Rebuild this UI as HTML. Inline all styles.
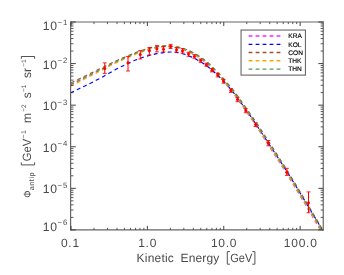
<!DOCTYPE html>
<html><head><meta charset="utf-8"><title>plot</title><style>html,body{margin:0;padding:0;background:#fff;overflow:hidden}svg text{text-rendering:geometricPrecision}svg{will-change:transform;transform:translateZ(0)}body{width:344px;height:275px}</style></head><body>
<svg width="344" height="275" viewBox="0 0 344 275" style="display:block" font-family="'Liberation Sans', sans-serif">
<rect x="0" y="0" width="344" height="275" fill="#fff"/>
<clipPath id="c"><rect x="71.0" y="22.0" width="252.1326710688149" height="207.89999999999998"/></clipPath>
<g clip-path="url(#c)" fill="none" stroke-width="1.15" stroke-dasharray="3.9 3.18">
<path d="M71.00,84.70C72.50,83.95 76.83,81.78 80.00,80.20C83.17,78.62 86.67,76.87 90.00,75.20C93.33,73.53 96.67,71.90 100.00,70.20C103.33,68.50 107.25,66.38 110.00,65.00C112.75,63.62 114.33,62.90 116.50,61.90C118.67,60.90 120.75,59.98 123.00,59.00C125.25,58.02 127.82,56.93 130.00,56.00C132.18,55.07 133.92,54.23 136.10,53.40C138.28,52.57 140.88,51.78 143.10,51.03C145.32,50.28 147.10,49.50 149.40,48.89C151.70,48.28 154.55,47.75 156.90,47.37C159.25,46.99 161.48,46.78 163.50,46.64C165.52,46.49 166.75,46.29 169.00,46.49C171.25,46.69 174.50,47.28 177.00,47.84C179.50,48.41 181.75,49.07 184.00,49.88C186.25,50.69 188.33,51.63 190.50,52.71C192.67,53.79 195.00,55.10 197.00,56.34C199.00,57.58 200.75,58.83 202.50,60.15C204.25,61.47 205.88,62.80 207.50,64.25C209.12,65.70 210.52,67.06 212.25,68.84C213.98,70.63 215.97,72.84 217.90,74.96C219.83,77.08 221.50,78.90 223.80,81.58C226.10,84.25 229.28,87.95 231.70,91.03C234.12,94.10 235.88,96.62 238.30,100.02C240.72,103.43 243.25,107.15 246.20,111.44C249.15,115.74 252.33,120.24 256.00,125.79C259.67,131.34 263.03,136.69 268.20,144.77C273.37,152.86 280.28,163.45 287.00,174.30C293.72,185.15 302.70,200.20 308.50,209.90C314.30,219.60 319.58,228.73 321.80,232.50" stroke="#ff22ff" stroke-dashoffset="0.6"/>
<path d="M71.00,92.70C72.25,92.08 76.17,90.13 78.50,89.00C80.83,87.87 82.75,87.00 85.00,85.90C87.25,84.80 89.50,83.67 92.00,82.40C94.50,81.13 97.42,79.67 100.00,78.30C102.58,76.93 104.83,75.72 107.50,74.20C110.17,72.68 113.48,70.57 116.00,69.20C118.52,67.83 120.60,66.93 122.60,66.00C124.60,65.07 125.93,64.55 128.00,63.60C130.07,62.65 132.50,61.37 135.00,60.30C137.50,59.23 140.50,58.03 143.00,57.20C145.50,56.37 147.67,55.90 150.00,55.30C152.33,54.70 154.75,54.05 157.00,53.60C159.25,53.15 161.33,52.87 163.50,52.60C165.67,52.33 167.85,52.03 170.00,52.00C172.15,51.97 174.15,52.07 176.40,52.40C178.65,52.73 181.13,53.30 183.50,54.00C185.87,54.70 188.35,55.65 190.60,56.60C192.85,57.55 195.02,58.63 197.00,59.70C198.98,60.77 200.75,61.87 202.50,63.00C204.25,64.13 205.88,65.28 207.50,66.50C209.12,67.72 210.52,68.80 212.25,70.30C213.98,71.80 215.97,73.63 217.90,75.50C219.83,77.37 221.50,79.03 223.80,81.50C226.10,83.97 229.28,87.38 231.70,90.30C234.12,93.22 235.88,95.72 238.30,99.00C240.72,102.28 243.25,105.78 246.20,110.00C249.15,114.22 252.32,118.80 256.00,124.30C259.68,129.80 263.05,134.97 268.30,143.00C273.55,151.03 280.68,161.67 287.50,172.50C294.32,183.33 303.40,198.45 309.20,208.00C315.00,217.55 320.12,226.17 322.30,229.80" stroke="#0000ff" stroke-dashoffset="0.6"/>
<path d="M71.00,82.80C72.50,82.08 76.83,79.99 80.00,78.46C83.17,76.94 86.67,75.25 90.00,73.64C93.33,72.03 96.67,70.46 100.00,68.82C103.33,67.18 107.25,65.15 110.00,63.80C112.75,62.45 114.33,61.72 116.50,60.73C118.67,59.74 120.75,58.84 123.00,57.86C125.25,56.89 127.82,55.82 130.00,54.90C132.18,53.98 133.92,53.15 136.10,52.33C138.28,51.52 140.88,50.74 143.10,50.01C145.32,49.28 147.10,48.53 149.40,47.94C151.70,47.35 154.55,46.84 156.90,46.49C159.25,46.13 161.48,45.95 163.50,45.82C165.52,45.69 166.75,45.55 169.00,45.73C171.25,45.91 174.50,46.39 177.00,46.89C179.50,47.39 181.75,47.99 184.00,48.73C186.25,49.48 188.33,50.36 190.50,51.38C192.67,52.39 195.00,53.65 197.00,54.82C199.00,56.00 200.75,57.19 202.50,58.44C204.25,59.69 205.88,60.95 207.50,62.33C209.12,63.70 210.52,65.00 212.25,66.71C213.98,68.42 215.97,70.54 217.90,72.58C219.83,74.62 221.50,76.36 223.80,78.94C226.10,81.53 229.28,85.09 231.70,88.07C234.12,91.06 235.88,93.55 238.30,96.88C240.72,100.21 243.25,103.85 246.20,108.06C249.15,112.26 252.33,116.66 256.00,122.11C259.67,127.56 263.03,132.71 268.20,140.73C273.37,148.74 280.28,159.35 287.00,170.20C293.72,181.05 302.70,196.10 308.50,205.80C314.30,215.50 319.58,224.63 321.80,228.40" stroke="#a0522d" stroke-dashoffset="0.1"/>
<path d="M71.00,86.10C72.50,85.32 76.83,83.09 80.00,81.45C83.17,79.81 86.67,78.01 90.00,76.28C93.33,74.56 96.67,72.87 100.00,71.12C103.33,69.36 107.25,67.17 110.00,65.75C112.75,64.33 114.33,63.63 116.50,62.62C118.67,61.61 120.75,60.68 123.00,59.68C125.25,58.69 127.82,57.59 130.00,56.65C132.18,55.71 133.92,54.86 136.10,54.02C138.28,53.18 140.88,52.36 143.10,51.59C145.32,50.81 147.10,50.01 149.40,49.37C151.70,48.73 154.55,48.15 156.90,47.74C159.25,47.34 161.48,47.10 163.50,46.92C165.52,46.75 166.75,46.53 169.00,46.70C171.25,46.88 174.50,47.43 177.00,47.97C179.50,48.51 181.75,49.15 184.00,49.94C186.25,50.73 188.33,51.65 190.50,52.70C192.67,53.76 195.00,55.05 197.00,56.27C199.00,57.49 200.75,58.73 202.50,60.03C204.25,61.34 205.88,62.66 207.50,64.10C209.12,65.54 210.52,66.89 212.25,68.66C213.98,70.44 215.97,72.63 217.90,74.74C219.83,76.85 221.50,78.65 223.80,81.32C226.10,83.98 229.28,87.66 231.70,90.72C234.12,93.78 235.88,96.29 238.30,99.68C240.72,103.07 243.25,106.78 246.20,111.06C249.15,115.34 252.33,119.82 256.00,125.36C259.67,130.90 263.03,136.21 268.20,144.28C273.37,152.36 280.28,162.95 287.00,173.80C293.72,184.65 302.70,199.70 308.50,209.40C314.30,219.10 319.58,228.23 321.80,232.00" stroke="#ffa500" stroke-dashoffset="0.6"/>
<path d="M71.00,84.10C72.50,83.36 76.83,81.21 80.00,79.65C83.17,78.08 86.67,76.35 90.00,74.70C93.33,73.05 96.67,71.43 100.00,69.75C103.33,68.07 107.25,65.97 110.00,64.60C112.75,63.23 114.33,62.50 116.50,61.50C118.67,60.50 120.75,59.58 123.00,58.60C125.25,57.62 127.82,56.53 130.00,55.60C132.18,54.67 133.92,53.83 136.10,53.00C138.28,52.17 140.88,51.37 143.10,50.61C145.32,49.85 147.10,49.06 149.40,48.43C151.70,47.81 154.55,47.25 156.90,46.86C159.25,46.46 161.48,46.24 163.50,46.08C165.52,45.92 166.75,45.72 169.00,45.90C171.25,46.07 174.50,46.60 177.00,47.12C179.50,47.65 181.75,48.27 184.00,49.05C186.25,49.82 188.33,50.73 190.50,51.77C192.67,52.81 195.00,54.08 197.00,55.29C199.00,56.50 200.75,57.72 202.50,59.00C204.25,60.28 205.88,61.58 207.50,63.00C209.12,64.42 210.52,65.75 212.25,67.50C213.98,69.25 215.97,71.42 217.90,73.50C219.83,75.58 221.50,77.37 223.80,80.00C226.10,82.63 229.28,86.27 231.70,89.30C234.12,92.33 235.88,94.83 238.30,98.20C240.72,101.57 243.25,105.25 246.20,109.50C249.15,113.75 252.33,118.20 256.00,123.70C259.67,129.20 263.03,134.45 268.20,142.50C273.37,150.55 280.28,161.15 287.00,172.00C293.72,182.85 302.70,197.90 308.50,207.60C314.30,217.30 319.58,226.43 321.80,230.20" stroke="#4fa04f" stroke-dashoffset="0.6"/>
</g>
<g stroke="#ff0000" stroke-width="1" fill="#ff0000">
<path d="M104.75,62.9V73.4" fill="none"/><path d="M102.8,62.9H106.7M102.8,73.4H106.7" fill="none" stroke-width="0.85"/>
<circle cx="104.75" cy="68.5" r="1.5" stroke="none"/>
<path d="M128.0,56.4V71.0" fill="none"/><path d="M126.05,56.4H129.95M126.05,71.0H129.95" fill="none" stroke-width="0.85"/>
<circle cx="128.0" cy="62.7" r="1.5" stroke="none"/>
<path d="M140.25,50.6V59" fill="none"/><path d="M138.3,50.6H142.2M138.3,59H142.2" fill="none" stroke-width="0.85"/>
<circle cx="140.25" cy="54.4" r="1.5" stroke="none"/>
<path d="M149.4,47.5V55" fill="none"/><path d="M147.45000000000002,47.5H151.35M147.45000000000002,55H151.35" fill="none" stroke-width="0.85"/>
<circle cx="149.4" cy="50.8" r="1.5" stroke="none"/>
<path d="M156.9,45.6V51.9" fill="none"/><path d="M154.95000000000002,45.6H158.85M154.95000000000002,51.9H158.85" fill="none" stroke-width="0.85"/>
<circle cx="156.9" cy="48.75" r="1.5" stroke="none"/>
<path d="M163.5,46.5V51.9" fill="none"/><path d="M161.55,46.5H165.45M161.55,51.9H165.45" fill="none" stroke-width="0.85"/>
<circle cx="163.5" cy="49.2" r="1.5" stroke="none"/>
<path d="M170.6,44.4V48.5" fill="none"/><path d="M168.65,44.4H172.54999999999998M168.65,48.5H172.54999999999998" fill="none" stroke-width="0.85"/>
<circle cx="170.6" cy="46.5" r="1.5" stroke="none"/>
<path d="M176.5,47.5V52.25" fill="none"/><path d="M174.55,47.5H178.45M174.55,52.25H178.45" fill="none" stroke-width="0.85"/>
<circle cx="176.5" cy="49.75" r="1.5" stroke="none"/>
<path d="M182.5,48.5V53" fill="none"/><path d="M180.55,48.5H184.45M180.55,53H184.45" fill="none" stroke-width="0.85"/>
<circle cx="182.5" cy="50.7" r="1.5" stroke="none"/>
<path d="M188.5,52.25V56.25" fill="none"/><path d="M186.55,52.25H190.45M186.55,56.25H190.45" fill="none" stroke-width="0.85"/>
<circle cx="188.5" cy="54.1" r="1.5" stroke="none"/>
<path d="M194.4,54.6V58.3" fill="none"/><path d="M192.45000000000002,54.6H196.35M192.45000000000002,58.3H196.35" fill="none" stroke-width="0.85"/>
<circle cx="194.4" cy="56.5" r="1.5" stroke="none"/>
<path d="M200.6,59V62.3" fill="none"/><path d="M198.65,59H202.54999999999998M198.65,62.3H202.54999999999998" fill="none" stroke-width="0.85"/>
<circle cx="200.6" cy="60.6" r="1.5" stroke="none"/>
<path d="M206.4,63.2V66.3" fill="none"/><path d="M204.45000000000002,63.2H208.35M204.45000000000002,66.3H208.35" fill="none" stroke-width="0.85"/>
<circle cx="206.4" cy="64.75" r="1.5" stroke="none"/>
<path d="M212.0,68.5V71.9" fill="none"/><path d="M210.05,68.5H213.95M210.05,71.9H213.95" fill="none" stroke-width="0.85"/>
<circle cx="212.0" cy="70.2" r="1.5" stroke="none"/>
<path d="M217.7,73.3V76.9" fill="none"/><path d="M215.75,73.3H219.64999999999998M215.75,76.9H219.64999999999998" fill="none" stroke-width="0.85"/>
<circle cx="217.7" cy="75.1" r="1.5" stroke="none"/>
<path d="M223.5,79.4V83.2" fill="none"/><path d="M221.55,79.4H225.45M221.55,83.2H225.45" fill="none" stroke-width="0.85"/>
<circle cx="223.5" cy="81.3" r="1.5" stroke="none"/>
<path d="M230.8,88.6V92.4" fill="none"/><path d="M228.85000000000002,88.6H232.75M228.85000000000002,92.4H232.75" fill="none" stroke-width="0.85"/>
<circle cx="230.8" cy="90.5" r="1.5" stroke="none"/>
<path d="M237.5,97.5V101.7" fill="none"/><path d="M235.55,97.5H239.45M235.55,101.7H239.45" fill="none" stroke-width="0.85"/>
<circle cx="237.5" cy="99.6" r="1.5" stroke="none"/>
<path d="M245.8,108.7V112.7" fill="none"/><path d="M243.85000000000002,108.7H247.75M243.85000000000002,112.7H247.75" fill="none" stroke-width="0.85"/>
<circle cx="245.8" cy="110.7" r="1.5" stroke="none"/>
<path d="M255.6,122.7V126.5" fill="none"/><path d="M253.65,122.7H257.55M253.65,126.5H257.55" fill="none" stroke-width="0.85"/>
<circle cx="255.6" cy="124.6" r="1.5" stroke="none"/>
<path d="M268.3,140.5V145.8" fill="none"/><path d="M266.35,140.5H270.25M266.35,145.8H270.25" fill="none" stroke-width="0.85"/>
<circle cx="268.3" cy="143.1" r="1.5" stroke="none"/>
<path d="M286.9,168.3V175.4" fill="none"/><path d="M284.95,168.3H288.84999999999997M284.95,175.4H288.84999999999997" fill="none" stroke-width="0.85"/>
<circle cx="286.9" cy="172.3" r="1.5" stroke="none"/>
<path d="M308.5,191.9V212.75" fill="none"/><path d="M306.55,191.9H310.45M306.55,212.75H310.45" fill="none" stroke-width="0.85"/>
<circle cx="308.5" cy="202.75" r="1.5" stroke="none"/>
</g>
<path d="M70.6,21.4V230.5M323.25,21.4V230.5" fill="none" stroke="#666" stroke-width="1.2"/>
<path d="M70.0,21.98H323.85M70.0,229.95H323.85" fill="none" stroke="#666" stroke-width="1.2"/>
<path d="M71.00,229.89999999999998v-4.0M71.00,22.0v4.0M147.38,229.89999999999998v-4.0M147.38,22.0v4.0M223.76,229.89999999999998v-4.0M223.76,22.0v4.0M300.14,229.89999999999998v-4.0M300.14,22.0v4.0M71.0,229.90h4.8M323.13,229.90h-4.8M71.0,188.32h4.8M323.13,188.32h-4.8M71.0,146.74h4.8M323.13,146.74h-4.8M71.0,105.16h4.8M323.13,105.16h-4.8M71.0,63.58h4.8M323.13,63.58h-4.8M71.0,22.00h4.8M323.13,22.00h-4.8" stroke="#3a3a3a" stroke-width="0.95" fill="none"/>
<path d="M93.99,229.89999999999998v-2.1M93.99,22.0v2.1M107.44,229.89999999999998v-2.1M107.44,22.0v2.1M116.99,229.89999999999998v-2.1M116.99,22.0v2.1M124.39,229.89999999999998v-2.1M124.39,22.0v2.1M130.44,229.89999999999998v-2.1M130.44,22.0v2.1M135.55,229.89999999999998v-2.1M135.55,22.0v2.1M139.98,229.89999999999998v-2.1M139.98,22.0v2.1M143.89,229.89999999999998v-2.1M143.89,22.0v2.1M170.37,229.89999999999998v-2.1M170.37,22.0v2.1M183.82,229.89999999999998v-2.1M183.82,22.0v2.1M193.37,229.89999999999998v-2.1M193.37,22.0v2.1M200.77,229.89999999999998v-2.1M200.77,22.0v2.1M206.82,229.89999999999998v-2.1M206.82,22.0v2.1M211.93,229.89999999999998v-2.1M211.93,22.0v2.1M216.36,229.89999999999998v-2.1M216.36,22.0v2.1M220.27,229.89999999999998v-2.1M220.27,22.0v2.1M246.75,229.89999999999998v-2.1M246.75,22.0v2.1M260.20,229.89999999999998v-2.1M260.20,22.0v2.1M269.75,229.89999999999998v-2.1M269.75,22.0v2.1M277.15,229.89999999999998v-2.1M277.15,22.0v2.1M283.20,229.89999999999998v-2.1M283.20,22.0v2.1M288.31,229.89999999999998v-2.1M288.31,22.0v2.1M292.74,229.89999999999998v-2.1M292.74,22.0v2.1M296.65,229.89999999999998v-2.1M296.65,22.0v2.1M71.0,217.38h2.5M323.13,217.38h-2.5M71.0,210.06h2.5M323.13,210.06h-2.5M71.0,204.87h2.5M323.13,204.87h-2.5M71.0,200.84h2.5M323.13,200.84h-2.5M71.0,197.54h2.5M323.13,197.54h-2.5M71.0,194.76h2.5M323.13,194.76h-2.5M71.0,192.35h2.5M323.13,192.35h-2.5M71.0,190.22h2.5M323.13,190.22h-2.5M71.0,175.80h2.5M323.13,175.80h-2.5M71.0,168.48h2.5M323.13,168.48h-2.5M71.0,163.29h2.5M323.13,163.29h-2.5M71.0,159.26h2.5M323.13,159.26h-2.5M71.0,155.96h2.5M323.13,155.96h-2.5M71.0,153.18h2.5M323.13,153.18h-2.5M71.0,150.77h2.5M323.13,150.77h-2.5M71.0,148.64h2.5M323.13,148.64h-2.5M71.0,134.22h2.5M323.13,134.22h-2.5M71.0,126.90h2.5M323.13,126.90h-2.5M71.0,121.71h2.5M323.13,121.71h-2.5M71.0,117.68h2.5M323.13,117.68h-2.5M71.0,114.38h2.5M323.13,114.38h-2.5M71.0,111.60h2.5M323.13,111.60h-2.5M71.0,109.19h2.5M323.13,109.19h-2.5M71.0,107.06h2.5M323.13,107.06h-2.5M71.0,92.64h2.5M323.13,92.64h-2.5M71.0,85.32h2.5M323.13,85.32h-2.5M71.0,80.13h2.5M323.13,80.13h-2.5M71.0,76.10h2.5M323.13,76.10h-2.5M71.0,72.80h2.5M323.13,72.80h-2.5M71.0,70.02h2.5M323.13,70.02h-2.5M71.0,67.61h2.5M323.13,67.61h-2.5M71.0,65.48h2.5M323.13,65.48h-2.5M71.0,51.06h2.5M323.13,51.06h-2.5M71.0,43.74h2.5M323.13,43.74h-2.5M71.0,38.55h2.5M323.13,38.55h-2.5M71.0,34.52h2.5M323.13,34.52h-2.5M71.0,31.22h2.5M323.13,31.22h-2.5M71.0,28.44h2.5M323.13,28.44h-2.5M71.0,26.03h2.5M323.13,26.03h-2.5M71.0,23.90h2.5M323.13,23.90h-2.5" stroke="#333" stroke-width="0.8" fill="none"/>
<rect x="241.05" y="30.05" width="64.40" height="45.05" fill="#fff" stroke="#666" stroke-width="1.1"/>
<path d="M248.6,36.0H281.2" stroke="#ff22ff" stroke-width="1.35" stroke-dasharray="3.8 3.2" fill="none"/>
<text x="288.3" y="38.20" font-size="6.6" fill="#000" stroke="#000" stroke-width="0.15">KRA</text>
<path d="M248.6,44.3H281.2" stroke="#0000ff" stroke-width="1.35" stroke-dasharray="3.8 3.2" fill="none"/>
<text x="288.3" y="46.50" font-size="6.6" fill="#000" stroke="#000" stroke-width="0.15">KOL</text>
<path d="M248.6,52.5H281.2" stroke="#a0522d" stroke-width="1.35" stroke-dasharray="3.8 3.2" fill="none"/>
<text x="288.3" y="54.70" font-size="6.6" fill="#000" stroke="#000" stroke-width="0.15">CON</text>
<path d="M248.6,60.7H281.2" stroke="#ffa500" stroke-width="1.35" stroke-dasharray="3.8 3.2" fill="none"/>
<text x="288.3" y="62.90" font-size="6.6" fill="#000" stroke="#000" stroke-width="0.15">THK</text>
<path d="M248.6,69.05H281.2" stroke="#4fa04f" stroke-width="1.35" stroke-dasharray="3.8 3.2" fill="none"/>
<text x="288.3" y="71.25" font-size="6.6" fill="#000" stroke="#000" stroke-width="0.15">THN</text>
<text x="70.4" y="247.0" font-size="12" fill="#4a4a4a" text-anchor="middle" letter-spacing="0.75">0.1</text>
<text x="147.65" y="247.0" font-size="12" fill="#4a4a4a" text-anchor="middle" letter-spacing="0.75">1.0</text>
<text x="224.1" y="247.0" font-size="12" fill="#4a4a4a" text-anchor="middle" letter-spacing="0.75">10.0</text>
<text x="300.7" y="247.0" font-size="12" fill="#4a4a4a" text-anchor="middle" letter-spacing="0.75">100.0</text>
<text x="136.6" y="261.8" font-size="12" fill="#4a4a4a" letter-spacing="0.2">Kinetic</text>
<text x="180.5" y="261.8" font-size="12" fill="#4a4a4a" letter-spacing="0.15">Energy</text>
<text x="230.3" y="261.8" font-size="12" fill="#4a4a4a" textLength="22" lengthAdjust="spacingAndGlyphs">GeV</text>
<path d="M229.9,251.6H227.3V264.2H229.9M252.3,251.6H254.9V264.2H252.3" fill="none" stroke="#4a4a4a" stroke-width="0.95"/>
<text x="42.8" y="230.55" font-size="12.2" fill="#4a4a4a" letter-spacing="0.8">10</text>
<text x="57.6" y="224.85" font-size="7.8" fill="#4a4a4a" letter-spacing="0.9">−6</text>
<text x="42.8" y="193.42" font-size="12.2" fill="#4a4a4a" letter-spacing="0.8">10</text>
<text x="57.6" y="187.72" font-size="7.8" fill="#4a4a4a" letter-spacing="0.9">−5</text>
<text x="42.8" y="151.84" font-size="12.2" fill="#4a4a4a" letter-spacing="0.8">10</text>
<text x="57.6" y="146.14" font-size="7.8" fill="#4a4a4a" letter-spacing="0.9">−4</text>
<text x="42.8" y="110.26" font-size="12.2" fill="#4a4a4a" letter-spacing="0.8">10</text>
<text x="57.6" y="104.56" font-size="7.8" fill="#4a4a4a" letter-spacing="0.9">−3</text>
<text x="42.8" y="68.68" font-size="12.2" fill="#4a4a4a" letter-spacing="0.8">10</text>
<text x="57.6" y="62.98" font-size="7.8" fill="#4a4a4a" letter-spacing="0.9">−2</text>
<text x="42.8" y="30.45" font-size="12.2" fill="#4a4a4a" letter-spacing="0.8">10</text>
<text x="57.6" y="24.75" font-size="7.8" fill="#4a4a4a" letter-spacing="0.9">−1</text>
<text transform="translate(31.2,197.8) rotate(-90)" font-size="10.6" fill="#4a4a4a" textLength="7.2" lengthAdjust="spacingAndGlyphs">Φ</text>
<text transform="translate(33.9,190.3) rotate(-90)" font-size="7.3" fill="#4a4a4a" textLength="17.9" lengthAdjust="spacing">antip</text>
<path d="M21.3,162.4V164.9H34.6V162.4M21.3,58.8V56.5H34.6V58.8" fill="none" stroke="#4a4a4a" stroke-width="0.95"/>
<text transform="translate(31.4,161.2) rotate(-90)" font-size="12" fill="#4a4a4a" textLength="22.3" lengthAdjust="spacingAndGlyphs">GeV</text>
<text transform="translate(25.9,138.6) rotate(-90)" font-size="6.8" fill="#4a4a4a" letter-spacing="0.6">−1</text>
<text transform="translate(31.2,122.9) rotate(-90)" font-size="12" fill="#4a4a4a" >m</text>
<text transform="translate(25.9,111.7) rotate(-90)" font-size="6.5" fill="#4a4a4a" >−2</text>
<text transform="translate(31.4,98.2) rotate(-90)" font-size="12" fill="#4a4a4a" >s</text>
<text transform="translate(25.9,92.0) rotate(-90)" font-size="6.5" fill="#4a4a4a" >−1</text>
<text transform="translate(31.4,78.0) rotate(-90)" font-size="12" fill="#4a4a4a" >sr</text>
<text transform="translate(25.9,66.7) rotate(-90)" font-size="6.5" fill="#4a4a4a" >−1</text>
</svg>
</body></html>
